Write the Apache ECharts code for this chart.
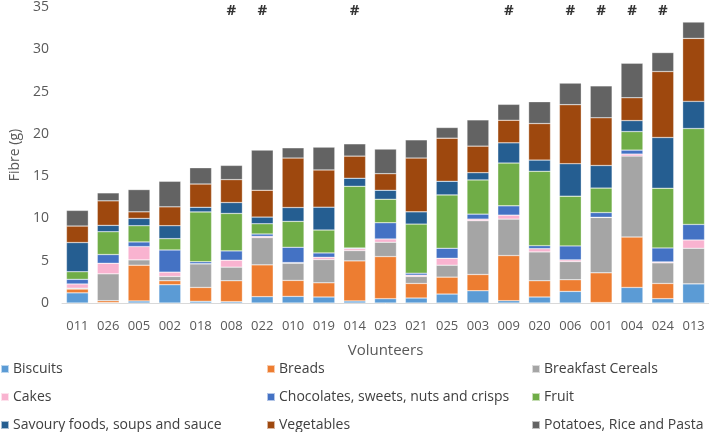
<!DOCTYPE html>
<html><head><meta charset="utf-8">
<script src="https://cdn.jsdelivr.net/npm/echarts@6/dist/echarts.min.js"></script>
<style>html,body{margin:0;padding:0;background:#fff}#c{width:709px;height:432px}</style>
</head><body><div id="c"></div>
<script>
const categories = ['011','026','005','002','018','008','022','010','019','014','023','021','025','003','009','020','006','001','004','024','013'];
const biscuits   = [1.2,0.05,0.24,2.16,0.2,0.16,0.75,0.78,0.71,0.24,0.51,0.59,1.06,1.45,0.27,0.71,1.37,0.05,1.84,0.51,2.27];
const breads     = [0.45,0.22,4.23,0.47,1.64,2.47,3.76,1.89,1.68,4.74,4.98,1.72,2.0,1.92,5.34,1.92,1.38,3.52,5.96,1.8,0];
const cereals    = [0.1,3.18,0.63,0.51,2.79,1.61,3.22,2.04,2.75,1.22,1.69,0.83,1.41,6.36,4.31,3.41,2.15,6.55,9.57,2.44,4.2];
const cakes      = [0.5,1.25,1.57,0.51,0.02,0.82,0.15,0.07,0.27,0.23,0.39,0.15,0.82,0.19,0.47,0.39,0.2,0.02,0.24,0.11,0.98];
const chocolates = [0.55,1.03,0.55,2.62,0.23,1.1,0.28,1.81,0.51,0.08,1.92,0.24,1.18,0.59,1.1,0.35,1.65,0.55,0.47,1.65,1.84];
const fruit      = [0.9,2.7,1.92,1.34,5.89,4.43,1.21,3.06,2.71,7.29,2.78,5.8,6.31,4.04,5.06,8.79,5.88,2.9,2.19,7.06,11.34];
const savoury    = [3.45,0.75,0.86,1.53,0.55,1.29,0.79,1.64,2.7,0.95,1.06,1.45,1.61,0.86,2.39,1.33,3.84,2.67,1.3,6.0,3.21];
const vegetables = [1.95,2.9,0.78,2.23,2.75,2.71,3.17,5.85,4.4,2.62,1.96,6.36,5.1,3.14,2.67,4.32,6.98,5.64,2.7,7.8,7.45];
const potatoes   = [1.85,0.94,2.63,3.02,1.92,1.68,4.75,1.21,2.7,1.45,2.91,2.15,1.26,3.1,1.88,2.58,2.55,3.77,4.08,2.24,1.93];
const hashCategories = ['008','022','014','009','006','001','004','024'];
const hashLevel = 34.5;
const yTicks = {min:0, max:35, interval:5};

const seriesDefs = [
  ['Biscuits', biscuits, '#5b9bd5'],
  ['Breads', breads, '#ed7d31'],
  ['Breakfast Cereals', cereals, '#a5a5a5'],
  ['Cakes', cakes, '#f9b3d0'],
  ['Chocolates, sweets, nuts and crisps', chocolates, '#4472c4'],
  ['Fruit', fruit, '#70ad47'],
  ['Savoury foods, soups and sauce', savoury, '#255e91'],
  ['Vegetables', vegetables, '#9e480e'],
  ['Potatoes, Rice and Pasta', potatoes, '#636363']
];
const FONT = '"Open Sans", "Noto Sans", sans-serif';
const series = seriesDefs.map(([name, data, color]) => ({
  name, type:'bar', stack:'total', data, barCategoryGap:'29%',
  itemStyle:{color, borderColor:'rgba(255,255,255,0.6)', borderWidth:0.5},
  emphasis:{disabled:true}
}));
series.push({
  name:'hash', type:'scatter', symbolSize:0,
  data: categories.map(c => hashCategories.includes(c) ? hashLevel : '-'),
  label:{show:true, position:'inside', formatter:'#', fontSize:15, fontWeight:'bold', color:'#000', fontFamily:FONT},
  silent:true
});
const legendCols = [0, 266, 531];
const legendRows = [362, 390, 418];
const legend = seriesDefs.map(([name], i) => ({
  data:[name], left: legendCols[i % 3], top: legendRows[Math.floor(i / 3)],
  itemWidth:8, itemHeight:8, icon:'rect', selectedMode:false, padding:0,
  textStyle:{fontSize:14, color:'#404040', fontFamily:FONT, padding:[0,0,0,-1]}
}));
const chart = echarts.init(document.getElementById('c'), null, {renderer:'canvas'});
chart.setOption({
  animation:false,
  textStyle:{fontFamily:FONT},
  grid:{left:58, right:0, top:6, bottom:129},
  legend,
  xAxis:{
    type:'category', data:categories,
    name:'Volunteers', nameLocation:'middle', nameGap:40,
    nameTextStyle:{fontSize:15, color:'#595959', fontFamily:FONT},
    axisLine:{lineStyle:{color:'#d9d9d9'}}, axisTick:{show:false},
    axisLabel:{fontSize:13, color:'#595959', margin:17, fontFamily:FONT}
  },
  yAxis:{
    type:'value', min:yTicks.min, max:yTicks.max, interval:yTicks.interval,
    name:'Fibre (g)', nameLocation:'middle', nameGap:40, nameRotate:90,
    nameTextStyle:{fontSize:14, color:'#595959', fontFamily:FONT},
    splitLine:{show:false}, axisLine:{show:false}, axisTick:{show:false},
    axisLabel:{fontSize:14, color:'#595959', margin:13, fontFamily:FONT}
  },
  series
});
</script></body></html>
